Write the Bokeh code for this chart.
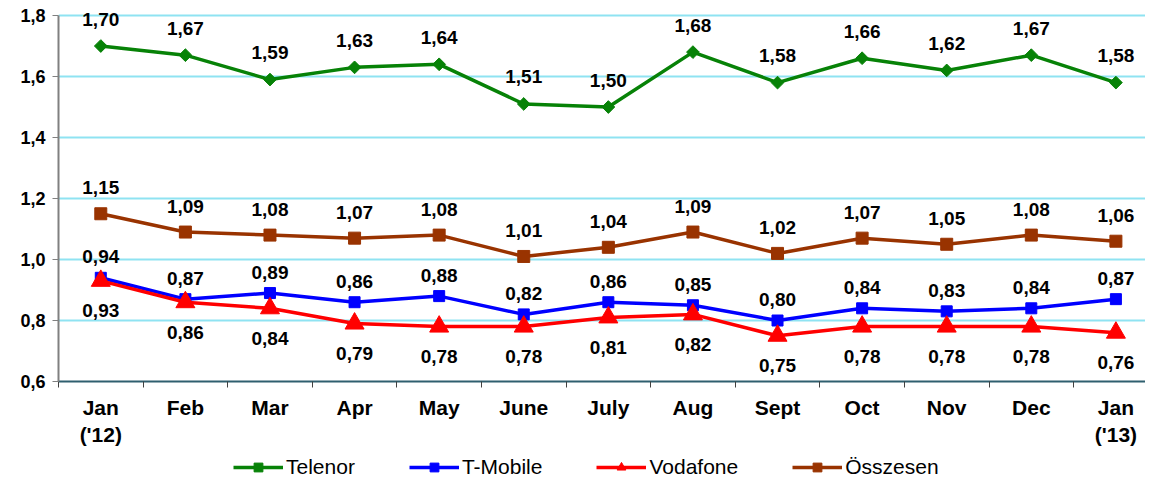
import math
from bokeh.plotting import figure
from bokeh.layouts import column
from bokeh.models import FixedTicker, Range1d, Legend, LegendItem, ColumnDataSource
from bokeh.core.properties import value
from bokeh.embed import file_html
from bokeh.resources import INLINE

months = ["Jan\n('12)", "Feb", "Mar", "Apr", "May", "June", "July", "Aug", "Sept", "Oct", "Nov", "Dec", "Jan\n('13)"]
telenor = [1.70, 1.67, 1.59, 1.63, 1.64, 1.51, 1.50, 1.68, 1.58, 1.66, 1.62, 1.67, 1.58]
tmobile = [0.94, 0.87, 0.89, 0.86, 0.88, 0.82, 0.86, 0.85, 0.80, 0.84, 0.83, 0.84, 0.87]
vodafone = [0.93, 0.86, 0.84, 0.79, 0.78, 0.78, 0.81, 0.82, 0.75, 0.78, 0.78, 0.78, 0.76]
osszesen = [1.15, 1.09, 1.08, 1.07, 1.08, 1.01, 1.04, 1.09, 1.02, 1.07, 1.05, 1.08, 1.06]
y_ticks = [0.6, 0.8, 1.0, 1.2, 1.4, 1.6, 1.8]

FONT = "Liberation Sans"
xs = list(range(len(months)))
W = 1145

p = figure(width=W, height=451, output_backend="svg", toolbar_location=None,
           x_range=Range1d(-0.5, 12.35), y_range=Range1d(0.6, 1.823),
           min_border_left=58, min_border_top=8, min_border_right=0, min_border_bottom=70)
p.outline_line_color = None
p.background_fill_color = "white"
p.border_fill_color = "white"

p.xgrid.grid_line_color = None
p.ygrid.grid_line_color = "#8FE3F2"
p.ygrid.grid_line_width = 2
p.yaxis.ticker = FixedTicker(ticks=y_ticks)
p.yaxis.bounds = (0.6, 1.8)
p.yaxis.major_label_overrides = {t: f"{t:.1f}".replace(".", ",") for t in y_ticks}
p.yaxis.axis_line_color = "#808080"
p.yaxis.axis_line_width = 2
p.yaxis.major_tick_line_color = "#808080"
p.yaxis.major_tick_out = 6
p.yaxis.major_tick_in = 0
p.yaxis.minor_tick_line_color = None
p.yaxis.major_label_text_font = FONT
p.yaxis.major_label_text_font_style = "bold"
p.yaxis.major_label_text_font_size = "18px"
p.yaxis.major_label_text_color = "black"
p.yaxis.major_label_standoff = 7

p.xaxis.ticker = FixedTicker(ticks=xs, minor_ticks=[i + 0.5 for i in range(-1, 13)])
p.xaxis.major_label_overrides = {i: m for i, m in enumerate(months)}
p.xaxis.axis_line_color = "#2F5F6F"
p.xaxis.axis_line_width = 2
p.xaxis.major_tick_line_color = None
p.xaxis.minor_tick_line_color = "#404040"
p.xaxis.minor_tick_out = 6
p.xaxis.minor_tick_in = 0
p.xaxis.major_label_text_font = FONT
p.xaxis.major_label_text_font_style = "bold"
p.xaxis.major_label_text_font_size = "21px"
p.xaxis.major_label_text_color = "black"
p.xaxis.major_label_standoff = 8

# name, values, colour, marker, size, angle, label offset
series = [
    ("Telenor", telenor, "#078207", "square", 9, math.pi / 4, -27),
    ("T-Mobile", tmobile, "#0000FF", "square", 11, 0.0, -21),
    ("Vodafone", vodafone, "#FF0000", "triangle", 19, 0.0, 30),
    ("Összesen", osszesen, "#993300", "square", 12, 0.0, -26),
]
order = [3, 1, 2, 0]
for idx in order:
    name, vals, color, marker, size, ang, off = series[idx]
    src = ColumnDataSource(dict(x=xs, y=vals, lab=[f"{v:.2f}".replace(".", ",") for v in vals]))
    p.line("x", "y", source=src, line_color=color, line_width=3.5)
    p.scatter("x", "y", source=src, marker=marker, size=size, angle=ang, fill_color=color, line_color=color)
    p.text("x", "y", text="lab", source=src, y_offset=off, text_align="center", text_baseline="middle",
           text_font=value(FONT), text_font_style="bold", text_font_size="19px", text_color="black")

# legend strip (separate canvas below the chart); its series lie outside its visible range
lg = figure(width=W, height=29, output_backend="svg", toolbar_location=None,
            x_range=Range1d(-0.5, 12.5), y_range=Range1d(10, 11),
            x_axis_location=None, y_axis_location=None,
            min_border=0, outline_line_color=None)
lg.grid.visible = False
items = []
for name, vals, color, marker, size, ang, off in series:
    ln = lg.line(x=xs, y=vals, line_color=color, line_width=3.5)
    sc = lg.scatter(x=xs, y=vals, marker=marker, size=size, angle=ang, fill_color=color, line_color=color)
    items.append(LegendItem(label=name, renderers=[ln, sc]))
legend = Legend(items=items, orientation="horizontal", location=(175, 1),
                label_text_font=FONT, label_text_font_size="21px", label_text_color="black",
                glyph_width=50, glyph_height=22, label_standoff=3, spacing=54,
                border_line_color=None, background_fill_alpha=0, padding=1, margin=0)
lg.add_layout(legend, "center")

open("out.html", "w").write(file_html(column(p, lg, spacing=0), INLINE))
